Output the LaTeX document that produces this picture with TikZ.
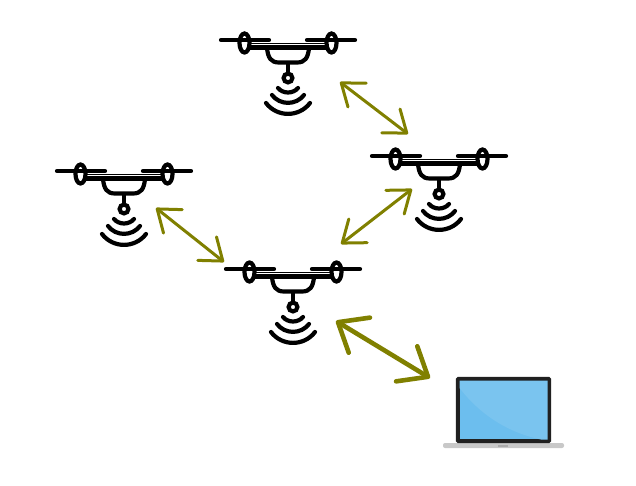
\documentclass[tikz,border=0pt]{standalone}
\usepackage{tikz}
\usetikzlibrary{arrows.meta}
\definecolor{linkolive}{RGB}{128,128,0}
\definecolor{screenblue}{RGB}{108,190,238}
\definecolor{screenlight}{RGB}{122,196,239}
\definecolor{bezel}{RGB}{32,32,32}
\definecolor{basegray}{RGB}{200,200,200}
\definecolor{notchgray}{RGB}{170,170,170}
\begin{document}
\begin{tikzpicture}[
        x=1pt, y=-1pt,                % Reference pixels
        link/.style={
            linkolive,
            line width=3pt,
            {Straight Barb[length=20pt,width=30pt,round]}-{Straight Barb[length=20pt,width=30pt,round]}
        },
        biglink/.style={
            linkolive,
            line width=4.6pt,
            {Straight Barb[length=25pt,width=41pt,round]}-{Straight Barb[length=25pt,width=41pt,round]}
        },
        stroke/.style={black, line width=4.2pt, line cap=round},
        thinstroke/.style={black, line width=1.4pt, line cap=round},
        screen/.style={
            draw=bezel, fill=screenblue, line width=2.6pt, rounded corners=1pt,
            minimum width=90pt, minimum height=61pt, inner sep=0pt
        },
        keyboard/.style={
            fill=basegray, rounded corners=2pt,
            minimum width=121pt, minimum height=5pt, inner sep=0pt
        },
        notch/.style={
            fill=notchgray, minimum width=10pt, minimum height=2pt, inner sep=0pt
        },
        drone/.pic={
            % rotors
            \draw[stroke] (-67,0) -- (-19,0);
            \draw[stroke] (19,0) -- (67,0);
            \draw[stroke] (-43.5,3) ellipse [x radius=5, y radius=9.5];
            \draw[stroke] (43.5,3) ellipse [x radius=5, y radius=9.5];
            % body
            \draw[thinstroke] (-38,3.5) -- (38,3.5);
            \draw[stroke] (-38,7.5) -- (38,7.5);
            \draw[stroke] (-21,8) .. controls (-20,18) and (-17,22.5) .. (-9,22.5)
                -- (9,22.5) .. controls (17,22.5) and (20,18) .. (21,8);
            \draw[stroke] (0,23) -- (0,33);
            \draw[stroke] (0,38) circle [radius=4.4];
            % wifi
            \draw[stroke] (-10,48) .. controls (-5,54) and (5,54) .. (10,48);
            \draw[stroke] (-16,55) .. controls (-8,65.5) and (8,65.5) .. (16,55);
            \draw[stroke] (-22,63) .. controls (-11,77.5) and (11,77.5) .. (22,63);
        }
    ]
        \useasboundingbox (0,0) rectangle (636,486);

        % drones
        \pic at (288,40) {drone};
        \pic at (439,156) {drone};
        \pic at (124,171) {drone};
        \pic at (293,269) {drone};

        % laptop
        \node (base) [keyboard] at (503.5,445.5) {};
        \node (pad) [notch] at (503,445.5) {};
        \node (screen) [screen] at (503.5,410) {};
        \fill[screenlight] (459.5,388) .. controls (478,412) and (505,432) .. (541,439.5)
            -- (547.5,439.5) -- (547.5,380.5) -- (459.5,380.5) -- cycle;
        \draw[bezel, line width=2.6pt, rounded corners=1pt] (screen.north west) rectangle (screen.south east);

        % arrow ends
        \coordinate (topa) at (340,82);
        \coordinate (topb) at (408,134);
        \coordinate (lefta) at (156,208);
        \coordinate (leftb) at (224,262);
        \coordinate (righta) at (412,189);
        \coordinate (rightb) at (341,244);
        \coordinate (laptopa) at (336,321);
        \coordinate (laptopb) at (430,378);

        % links
        \draw[link] (topa) -- (topb);
        \draw[link] (lefta) -- (leftb);
        \draw[link] (righta) -- (rightb);
        \draw[biglink] (laptopa) -- (laptopb);
    \end{tikzpicture}
\end{document}
